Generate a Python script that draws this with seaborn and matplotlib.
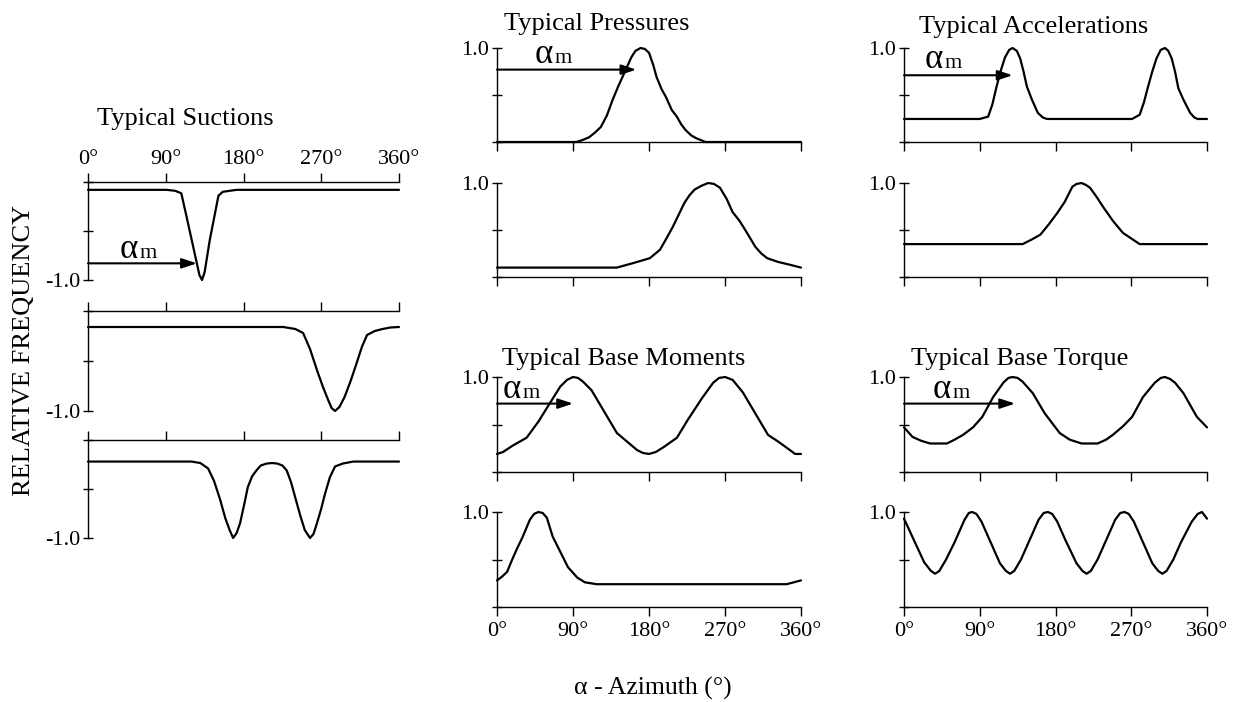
import matplotlib
matplotlib.use("Agg")
import matplotlib.pyplot as plt
import numpy as np
import pandas as pd
import seaborn as sns

# ---------------------------------------------------------------- data
# Relative frequency against wind azimuth (degrees)
suction_az_1 = [0, 91, 101, 108, 114, 120, 126, 129, 132, 135, 141, 151, 156, 172, 360]
suction_rf_1 = [-0.08, -0.08, -0.09, -0.115, -0.35, -0.59, -0.83, -0.95, -1.0, -0.92,
                -0.59, -0.14, -0.10, -0.08, -0.08]

suction_az_2 = [0, 226, 240, 249, 257, 265, 272, 278, 282, 286, 291, 297, 304, 311, 317,
                323, 332, 341, 350, 360]
suction_rf_2 = [-0.16, -0.16, -0.18, -0.22, -0.38, -0.59, -0.76, -0.89, -0.97, -1.0, -0.96,
                -0.86, -0.70, -0.52, -0.36, -0.24, -0.20, -0.18, -0.165, -0.16]

suction_az_3 = [0, 120, 130, 139, 146, 153, 159, 164, 168, 172, 176, 181, 185, 190, 195,
                200, 207, 213, 219, 225, 230, 235, 240, 246, 251, 257, 261, 265, 270, 274,
                280, 286, 295, 307, 360]
suction_rf_3 = [-0.22, -0.22, -0.235, -0.29, -0.42, -0.61, -0.80, -0.92, -1.0, -0.95,
                -0.85, -0.65, -0.48, -0.37, -0.31, -0.26, -0.24, -0.235, -0.24, -0.26,
                -0.31, -0.43, -0.59, -0.78, -0.92, -1.0, -0.96, -0.85, -0.70, -0.56,
                -0.38, -0.27, -0.24, -0.22, -0.22]

pressure_az_1 = [0, 94, 101, 109, 116, 123, 130, 137, 143, 148, 154, 159, 164, 170, 175,
                 180, 185, 189, 195, 200, 207, 213, 218, 223, 230, 236, 247, 360]
pressure_rf_1 = [0, 0, 0.02, 0.05, 0.10, 0.16, 0.28, 0.45, 0.58, 0.68, 0.80, 0.90, 0.97,
                 1.0, 0.99, 0.95, 0.82, 0.69, 0.56, 0.48, 0.34, 0.27, 0.19, 0.13, 0.07,
                 0.04, 0, 0]

pressure_az_2 = [0, 142, 162, 181, 193, 200, 208, 215, 222, 228, 234, 242, 250, 257, 264,
                 272, 279, 287, 294, 300, 306, 313, 320, 333, 347, 360]
pressure_rf_2 = [0.10, 0.10, 0.15, 0.20, 0.29, 0.40, 0.53, 0.66, 0.79, 0.87, 0.93, 0.97,
                 1.0, 0.99, 0.95, 0.83, 0.69, 0.60, 0.50, 0.41, 0.32, 0.25, 0.20, 0.16,
                 0.13, 0.10]

accel_az_1 = [0, 90, 100, 105, 110, 115, 120, 125, 129, 134, 138, 142, 146, 152, 159, 165,
              170, 271, 280, 285, 290, 295, 300, 305, 310, 314, 318, 322, 326, 332, 340,
              345, 349, 360]
accel_rf_1 = [0.245, 0.245, 0.27, 0.40, 0.59, 0.76, 0.90, 0.98, 1.0, 0.97, 0.89, 0.75,
              0.59, 0.45, 0.31, 0.26, 0.245, 0.245, 0.29, 0.42, 0.59, 0.75, 0.89, 0.98,
              1.0, 0.97, 0.89, 0.75, 0.57, 0.45, 0.31, 0.26, 0.245, 0.245]

accel_az_2 = [0, 141, 152, 162, 172, 182, 191, 200, 205, 211, 216, 221, 229, 237, 248, 260,
              270, 280, 360]
accel_rf_2 = [0.35, 0.35, 0.40, 0.45, 0.56, 0.68, 0.80, 0.96, 0.99, 1.0, 0.98, 0.95, 0.85,
              0.74, 0.60, 0.47, 0.41, 0.35, 0.35]

moment_az_1 = [0, 7, 19, 35, 49, 63, 75, 83, 90, 96, 102, 112, 126, 142, 154, 166, 173,
               180, 188, 197, 213, 226, 243, 256, 263, 270, 279, 291, 307, 321, 333, 347,
               353, 360]
moment_rf_1 = [0.19, 0.21, 0.28, 0.36, 0.53, 0.73, 0.90, 0.97, 1.0, 0.99, 0.95, 0.86, 0.65,
               0.41, 0.32, 0.23, 0.20, 0.19, 0.21, 0.26, 0.36, 0.55, 0.78, 0.94, 0.99, 1.0,
               0.97, 0.84, 0.60, 0.39, 0.32, 0.23, 0.19, 0.19]

moment_az_2 = [0, 6, 12, 18, 24, 30, 39, 44, 49, 54, 59, 66, 75, 84, 95, 104, 118, 343, 360]
moment_rf_2 = [0.28, 0.32, 0.37, 0.50, 0.62, 0.73, 0.92, 0.98, 1.0, 0.99, 0.94, 0.74, 0.58,
               0.42, 0.31, 0.26, 0.24, 0.24, 0.28]

torque_az_1 = [0, 10, 20, 31, 51, 60, 70, 82, 93, 106, 118, 124, 129, 135, 141, 153, 167,
               185, 197, 211, 230, 240, 248, 260, 271, 284, 298, 305, 310, 316, 322, 332,
               348, 360]
torque_rf_1 = [0.47, 0.37, 0.33, 0.30, 0.30, 0.34, 0.39, 0.47, 0.58, 0.79, 0.94, 0.99, 1.0,
               0.99, 0.95, 0.83, 0.62, 0.41, 0.34, 0.30, 0.30, 0.34, 0.39, 0.48, 0.58, 0.79,
               0.94, 0.99, 1.0, 0.98, 0.94, 0.83, 0.58, 0.47]

torque_az_2 = [0, 12, 24, 32, 37, 42, 50, 60, 72, 77, 81, 86, 92, 102, 114, 121, 126, 131,
               139, 148, 160, 166, 171, 176, 182, 192, 205, 212, 217, 222, 230, 239, 251,
               257, 262, 267, 273, 283, 295, 302, 307, 312, 320, 329, 342, 349, 354, 360]
torque_rf_2 = [0.93, 0.70, 0.47, 0.38, 0.35, 0.38, 0.50, 0.68, 0.92, 0.99, 1.0, 0.98, 0.90,
               0.70, 0.46, 0.38, 0.35, 0.38, 0.50, 0.68, 0.92, 0.99, 1.0, 0.98, 0.90, 0.70,
               0.46, 0.38, 0.35, 0.38, 0.50, 0.68, 0.92, 0.99, 1.0, 0.98, 0.90, 0.70, 0.46,
               0.38, 0.35, 0.38, 0.50, 0.68, 0.90, 0.98, 1.0, 0.93]

# mean-direction arrows: (height of arrow, azimuth it points to)
arrow_suction = (-0.83, 126)
arrow_pressure = (0.77, 165)
arrow_accel = (0.71, 129)
arrow_moment = (0.72, 90)
arrow_torque = (0.72, 132)

azimuth_ticks = [0, 90, 180, 270, 360]
azimuth_labels = ["0°", "90°", "180°", "270°", "360°"]

panel_titles = ["Typical Suctions", "Typical Pressures", "Typical Accelerations",
                "Typical Base Moments", "Typical Base Torque"]

# ---------------------------------------------------------------- style
sns.set_theme(style="ticks")
plt.rcParams["font.family"] = ["Liberation Serif", "DejaVu Serif"]
plt.rcParams["axes.linewidth"] = 1.0
plt.rcParams["text.color"] = "black"
plt.rcParams["axes.labelcolor"] = "black"
plt.rcParams["xtick.color"] = "black"
plt.rcParams["ytick.color"] = "black"
plt.rcParams["xtick.labelcolor"] = "black"
plt.rcParams["ytick.labelcolor"] = "black"
plt.rcParams["axes.edgecolor"] = "black"

W, H = 1246, 702
fig = plt.figure(figsize=(W / 100, H / 100), dpi=100)
fig.patch.set_facecolor("white")


def box(x0, x1, ytop, ybot):
    return [x0 / W, 1 - ybot / H, (x1 - x0) / W, (ybot - ytop) / H]


TICK_FS = 16
TITLE_FS = 19


def draw_curve(ax, az, rf):
    df = pd.DataFrame({"azimuth": az, "frequency": rf})
    sns.lineplot(data=df, x="azimuth", y="frequency", ax=ax, color="black",
                 linewidth=1.6, clip_on=False, estimator=None)
    ax.set_xlabel("")
    ax.set_ylabel("")
    ax.set_xlim(0, 360)
    ax.set_xticks(azimuth_ticks)
    ax.set_facecolor("none")
    ax.grid(False)


def style_suction(ax, labels):
    ax.set_ylim(-1.0, 0.0)
    ax.set_yticks([0, -0.5, -1.0])
    ax.set_yticklabels(["", "", "-1.0"], fontsize=TICK_FS)
    ax.xaxis.tick_top()
    ax.set_xticklabels(azimuth_labels if labels else [""] * 5, fontsize=TICK_FS)
    for s in ("bottom", "right"):
        ax.spines[s].set_visible(False)
    ax.spines["top"].set_visible(True)
    ax.tick_params(axis="x", direction="out", length=6.5, width=1, pad=3,
                   top=True, bottom=False, labeltop=labels, labelbottom=False)
    ax.tick_params(axis="y", direction="inout", length=7, width=1, pad=2)


def style_positive(ax, labels):
    ax.set_ylim(0.0, 1.0)
    ax.set_yticks([0, 0.5, 1.0])
    ax.set_yticklabels(["", "", "1.0"], fontsize=TICK_FS)
    ax.set_xticklabels(azimuth_labels if labels else [""] * 5, fontsize=TICK_FS)
    for s in ("top", "right"):
        ax.spines[s].set_visible(False)
    ax.tick_params(axis="x", direction="out", length=6.5, width=1, pad=4,
                   labelbottom=labels)
    ax.tick_params(axis="y", direction="inout", length=7, width=1, pad=2)


def mean_arrow(ax, arrow, label_x, label_y):
    y, x_end = arrow
    ax.annotate("", xy=(x_end, y), xytext=(0, y), annotation_clip=False,
                arrowprops=dict(arrowstyle="-|>,head_length=0.6,head_width=0.2",
                                color="black", lw=1.5, shrinkA=0, shrinkB=0,
                                mutation_scale=15))
    ax.text(label_x, label_y, "α", fontsize=25, ha="left", va="baseline",
            color="black")
    ax.annotate("m", xy=(label_x, label_y), xytext=(14.4, 0), textcoords="offset points",
                fontsize=16, ha="left", va="baseline", annotation_clip=False,
                color="black")


# left column: suctions
left_x = (88, 399)
ax_s1 = fig.add_axes(box(*left_x, 182, 280))
draw_curve(ax_s1, suction_az_1, suction_rf_1)
style_suction(ax_s1, True)
mean_arrow(ax_s1, arrow_suction, 37, -0.776)

ax_s2 = fig.add_axes(box(*left_x, 311, 411))
draw_curve(ax_s2, suction_az_2, suction_rf_2)
style_suction(ax_s2, False)

ax_s3 = fig.add_axes(box(*left_x, 440, 538))
draw_curve(ax_s3, suction_az_3, suction_rf_3)
style_suction(ax_s3, False)

# middle column: pressures and base moments
mid_x = (497, 801)
ax_p1 = fig.add_axes(box(*mid_x, 48, 142))
draw_curve(ax_p1, pressure_az_1, pressure_rf_1)
style_positive(ax_p1, False)
mean_arrow(ax_p1, arrow_pressure, 44, 0.84)

ax_p2 = fig.add_axes(box(*mid_x, 183, 277))
draw_curve(ax_p2, pressure_az_2, pressure_rf_2)
style_positive(ax_p2, False)

ax_m1 = fig.add_axes(box(*mid_x, 377, 472))
draw_curve(ax_m1, moment_az_1, moment_rf_1)
style_positive(ax_m1, False)
mean_arrow(ax_m1, arrow_moment, 7, 0.78)

ax_m2 = fig.add_axes(box(*mid_x, 512, 607))
draw_curve(ax_m2, moment_az_2, moment_rf_2)
style_positive(ax_m2, True)

# right column: accelerations and base torque
right_x = (904, 1207)
ax_a1 = fig.add_axes(box(*right_x, 48, 142))
draw_curve(ax_a1, accel_az_1, accel_rf_1)
style_positive(ax_a1, False)
mean_arrow(ax_a1, arrow_accel, 25, 0.79)

ax_a2 = fig.add_axes(box(*right_x, 183, 277))
draw_curve(ax_a2, accel_az_2, accel_rf_2)
style_positive(ax_a2, False)

ax_t1 = fig.add_axes(box(*right_x, 377, 472))
draw_curve(ax_t1, torque_az_1, torque_rf_1)
style_positive(ax_t1, False)
mean_arrow(ax_t1, arrow_torque, 34, 0.78)

ax_t2 = fig.add_axes(box(*right_x, 512, 607))
draw_curve(ax_t2, torque_az_2, torque_rf_2)
style_positive(ax_t2, True)

# panel titles and shared labels
title_pos = [(185, 125), (597, 30), (1034, 33), (624, 365), (1020, 365)]
for t, (px, py) in zip(panel_titles, title_pos):
    fig.text(px / W, 1 - py / H, t, fontsize=TITLE_FS, ha="center", va="baseline",
             color="black")

fig.text(24 / W, 1 - 350 / H, "RELATIVE FREQUENCY", fontsize=TITLE_FS, rotation=90,
         ha="center", va="center", color="black")
fig.text(653 / W, 1 - 695 / H, "α - Azimuth (°)", fontsize=18.5, ha="center",
         va="baseline", color="black")

fig.savefig("out.png", dpi=100, facecolor="white")
